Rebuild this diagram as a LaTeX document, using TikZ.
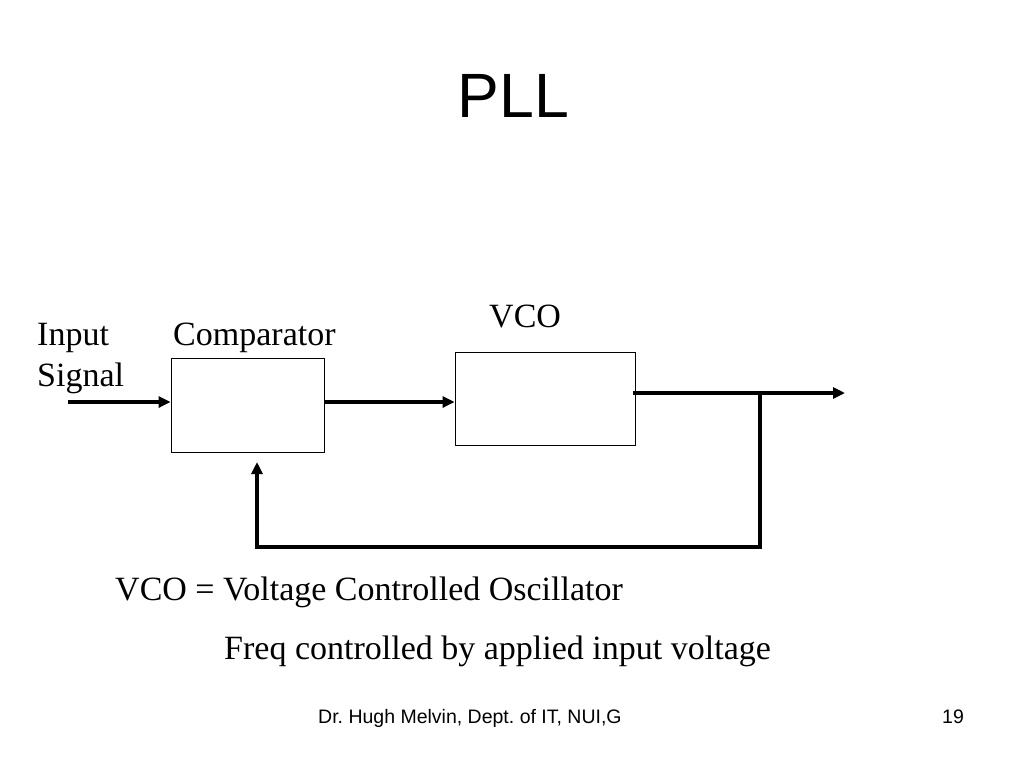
\documentclass[tikz,border=0pt]{standalone}
\usepackage{fontspec}
\setmainfont{Liberation Serif}
\newfontfamily\arialfont{Liberation Sans}
\usetikzlibrary{arrows.meta}
\frenchspacing
\begin{document}
\begin{tikzpicture}[x=1pt,y=-1pt,>={Triangle[length=12pt,width=11pt]},
blockbox/.style={draw,line width=0.9pt,minimum width=153pt,minimum height=94pt,inner sep=0pt},
sig/.style={line width=4pt},
lbl/.style={font=\fontsize{34}{40}\selectfont,anchor=base west,inner sep=0pt},
foottext/.style={font=\arialfont\fontsize{19.5}{22}\selectfont,anchor=base west,inner sep=0pt}]
\useasboundingbox (0,0) rectangle (1024,768);
\path
(68,402) coordinate (in)
(845,393) coordinate (out)
(760,393) coordinate (br)
(257,462) coordinate (fbup);
% title
\node[font=\arialfont\fontsize{62.6}{70}\selectfont,anchor=base,inner sep=0pt] (title) at (513.5,117) {PLL};
% blocks
\node[blockbox] (cmp) at (247.5,405) {};
\node[blockbox,minimum width=180pt,minimum height=93pt] (vco) at (545,398.5) {};
% labels
\node[lbl] (inlbl) at (37,345) {Input};
\node[lbl] (siglbl) at (37,386) {Signal};
\node[lbl] (cmplbl) at (173,345) {Comparator};
\node[lbl] (vcolbl) at (489,327) {VCO};
\node[lbl] (def) at (115,600) {VCO = Voltage Controlled Oscillator};
\node[lbl] (freq) at (224,659) {Freq controlled by applied input voltage};
% connectors
\draw[sig,->] (in) -- (cmp.west |- in);
\draw[sig,->] (cmp.east |- in) -- (vco.west |- in);
\draw[sig,->] ([xshift=-2pt]vco.east |- out) -- (out);
\draw[sig,->] (br) -- ++(0,154) -| (fbup);
% footer
\node[foottext] (foot) at (318,723) {Dr. Hugh Melvin, Dept. of IT, NUI,G};
\node[foottext] (page) at (942,723) {19};
\end{tikzpicture}
\end{document}
